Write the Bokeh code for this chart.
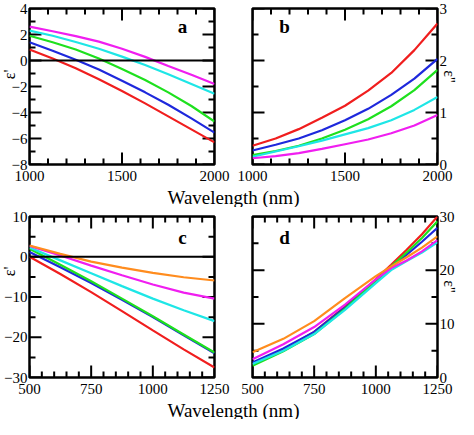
import math
from bokeh.plotting import figure
from bokeh.models import Range1d, LinearAxis, FixedTicker, Span, Label
from bokeh.layouts import column, row
from bokeh.embed import file_html
from bokeh.resources import INLINE
from bokeh.core.properties import value

FONT = "Liberation Serif"

# ---------------- data ----------------
wl_ab = [1000, 1125, 1250, 1375, 1500, 1625, 1750, 1875, 2000]
a_red = [0.85, 0.15, -0.6, -1.45, -2.35, -3.3, -4.3, -5.3, -6.3]
a_blue = [1.4, 0.75, 0.05, -0.7, -1.55, -2.45, -3.4, -4.45, -5.55]
a_green = [1.9, 1.4, 0.85, 0.15, -0.65, -1.5, -2.45, -3.5, -4.7]
a_cyan = [2.3, 1.9, 1.42, 0.9, 0.3, -0.35, -1.05, -1.8, -2.55]
a_magenta = [2.6, 2.25, 1.88, 1.45, 0.9, 0.28, -0.42, -1.1, -1.8]

b_red = [0.36, 0.5, 0.68, 0.9, 1.13, 1.42, 1.76, 2.2, 2.71]
b_blue = [0.27, 0.38, 0.5, 0.66, 0.85, 1.07, 1.34, 1.65, 2.03]
b_green = [0.18, 0.26, 0.36, 0.5, 0.67, 0.87, 1.12, 1.43, 1.82]
b_cyan = [0.15, 0.25, 0.35, 0.46, 0.58, 0.7, 0.85, 1.05, 1.3]
b_magenta = [0.12, 0.16, 0.22, 0.3, 0.39, 0.48, 0.6, 0.75, 0.95]

wl_c = [500, 625, 750, 875, 1000, 1125, 1250]
c_red = [0.0, -4.3, -8.8, -13.5, -18.3, -23.0, -27.5]
c_blue = [1.2, -2.6, -6.5, -10.7, -15.0, -19.5, -24.0]
c_green = [2.0, -2.0, -6.1, -10.4, -14.8, -19.3, -23.8]
c_cyan = [2.3, -0.9, -4.1, -7.3, -10.4, -13.3, -16.0]
c_magenta = [2.7, 0.3, -2.2, -4.6, -6.9, -8.9, -10.4]
c_orange = [2.8, 0.7, -1.2, -2.7, -4.0, -5.1, -5.9]

wl_d = [500, 625, 750, 875, 1000, 1062, 1125, 1187, 1250]
d_red = [2.5, 5.2, 8.5, 13.2, 18.3, 21.0, 23.8, 26.7, 30.0]
d_blue = [2.8, 5.4, 8.5, 13.0, 18.0, 20.6, 22.9, 25.3, 27.9]
d_green = [2.2, 4.9, 8.1, 12.8, 18.0, 20.7, 23.3, 26.0, 29.1]
d_cyan = [2.5, 5.0, 8.1, 12.6, 17.6, 20.0, 21.7, 23.3, 25.2]
d_magenta = [3.4, 6.2, 9.4, 13.6, 18.3, 20.4, 21.8, 23.5, 25.6]
d_orange = [4.7, 7.2, 10.5, 14.8, 18.9, 20.7, 22.4, 24.2, 26.3]

# tick values
ab_x_major = [1000, 1500, 2000]
ab_x_minor = [1100, 1200, 1300, 1400, 1600, 1700, 1800, 1900]
a_y_major = [-8, -6, -4, -2, 0, 2, 4]
a_y_minor = [-7, -5, -3, -1, 1, 3]
b_y_major = [0, 1, 2, 3]
b_y_minor = [0.5, 1.5, 2.5]
cd_x_major = [500, 750, 1000, 1250]
cd_x_minor = [550, 600, 650, 700, 800, 850, 900, 950, 1050, 1100, 1150, 1200]
c_y_major = [-30, -20, -10, 0, 10]
c_y_minor = [-25, -15, -5, 5]
d_y_major = [0, 10, 20, 30]
d_y_minor = [5, 15, 25]

xlabel = "Wavelength (nm)"
ylabel_real = "ε'"
ylabel_imag = "ε''"

COL = {"red": "#f01e1e", "blue": "#1e28dc", "green": "#1ee01e",
       "cyan": "#1ee6e6", "magenta": "#f01ef0", "orange": "#ff8c1e"}
LW = 2.2
MAJ, MIN = 12, 6


def panel(w, h, bl, br, bt, bb, xr, yr, xt, yt, ylab_side):
    p = figure(width=w, height=h, x_range=Range1d(*xr), y_range=Range1d(*yr),
               output_backend="svg", toolbar_location=None,
               x_axis_location=None, y_axis_location=None,
               min_border_left=bl, min_border_right=br,
               min_border_top=bt, min_border_bottom=bb)
    p.grid.visible = False
    p.outline_line_color = "black"
    p.outline_line_width = 2.5
    p.border_fill_color = None
    p.background_fill_color = "white"
    (xmaj, xmin), (ymaj, ymin) = xt, yt
    xa = LinearAxis(ticker=FixedTicker(ticks=xmaj))
    ya = LinearAxis(ticker=FixedTicker(ticks=ymaj))
    for ax, st in [(xa, 6), (ya, 2)]:
        ax.axis_line_color = None
        ax.major_tick_in = 0
        ax.major_tick_out = 0
        ax.minor_tick_in = 0
        ax.minor_tick_out = 0
        ax.major_label_text_font = FONT
        ax.major_label_text_font_size = "15px"
        ax.major_label_text_color = "black"
        ax.major_label_standoff = st
    p.add_layout(xa, "below")
    p.add_layout(ya, ylab_side)
    x0, x1 = xr
    y0, y1 = yr
    # inward ticks on all four sides
    for vals, ln in [(xmaj, MAJ), (xmin, MIN)]:
        p.ray(x=vals, y=[y0] * len(vals), length=ln, length_units="screen",
              angle=math.pi / 2, line_color="black", line_width=2)
        p.ray(x=vals, y=[y1] * len(vals), length=ln, length_units="screen",
              angle=-math.pi / 2, line_color="black", line_width=2)
    for vals, ln in [(ymaj, MAJ), (ymin, MIN)]:
        p.ray(x=[x0] * len(vals), y=vals, length=ln, length_units="screen",
              angle=0, line_color="black", line_width=2)
        p.ray(x=[x1] * len(vals), y=vals, length=ln, length_units="screen",
              angle=math.pi, line_color="black", line_width=2)
    return p


def letter(p, x, y, t):
    p.add_layout(Label(x=x, y=y, text=t, text_font=FONT, text_font_size="19px",
                       text_font_style="bold", text_align="center",
                       text_baseline="middle", text_color="black"))


# horizontal geometry (frames at the reference positions)
BL_A, FW, BR_A = 29, 185, 19
BL_B, BR_B = 19, 21
WA = BL_A + FW + BR_A          # 233
WB = BL_B + FW + BR_B          # 225
H1, H2 = 187, 193              # heights of the two panel rows

# panel a
pa = panel(WA, H1, BL_A, BR_A, 8, 23, (1000, 2000), (-8, 4),
           (ab_x_major, ab_x_minor), (a_y_major, a_y_minor), "left")
pa.add_layout(Span(location=0, dimension="width", line_color="black", line_width=2))
for nm, ys in [("red", a_red), ("blue", a_blue), ("green", a_green),
               ("cyan", a_cyan), ("magenta", a_magenta)]:
    pa.line(wl_ab, ys, line_color=COL[nm], line_width=LW)
letter(pa, 1827, 2.6, "a")

# panel b
pb = panel(WB, H1, BL_B, BR_B, 8, 23, (1000, 2000), (0, 3),
           (ab_x_major, ab_x_minor), (b_y_major, b_y_minor), "right")
for nm, ys in [("red", b_red), ("blue", b_blue), ("green", b_green),
               ("cyan", b_cyan), ("magenta", b_magenta)]:
    pb.line(wl_ab, ys, line_color=COL[nm], line_width=LW)
letter(pb, 1173, 2.65, "b")

# panel c
pc = panel(WA, H2, BL_A, BR_A, 9, 23, (500, 1250), (-30, 10),
           (cd_x_major, cd_x_minor), (c_y_major, c_y_minor), "left")
pc.add_layout(Span(location=0, dimension="width", line_color="black", line_width=2))
for nm, ys in [("red", c_red), ("blue", c_blue), ("green", c_green),
               ("cyan", c_cyan), ("magenta", c_magenta), ("orange", c_orange)]:
    pc.line(wl_c, ys, line_color=COL[nm], line_width=LW)
letter(pc, 1120, 4.8, "c")

# panel d
pd_ = panel(WB, H2, BL_B, BR_B, 9, 23, (500, 1250), (0, 30),
            (cd_x_major, cd_x_minor), (d_y_major, d_y_minor), "right")
for nm, ys in [("red", d_red), ("blue", d_blue), ("green", d_green),
               ("cyan", d_cyan), ("magenta", d_magenta), ("orange", d_orange)]:
    pd_.line(wl_d, ys, line_color=COL[nm], line_width=LW)
letter(pd_, 630, 26.1, "d")


def blank(w, h):
    f = figure(width=w, height=h, x_range=Range1d(0, w), y_range=Range1d(0, h),
               output_backend="svg", toolbar_location=None,
               x_axis_location=None, y_axis_location=None, min_border=0)
    f.grid.visible = False
    f.outline_line_color = None
    f.background_fill_color = None
    f.border_fill_color = None
    return f


MIDW = WA + WB  # 458


def label_fig(h):
    f = blank(MIDW, h)
    f.text(x=[241 - 8], y=[h / 2], text=[xlabel], text_font=value(FONT),
           text_font_size="19px", text_align="center", text_baseline="middle",
           text_color="black")
    return f


l1 = label_fig(20)
l2 = label_fig(19)

TOTAL_H = H1 + 20 + H2 + 19   # 419
SL, SR = 20, 18
# transparent strips (under the panels' margins) carrying rotated y titles;
# y is measured from the bottom of the strip
sl = blank(SL, TOTAL_H)
sl.text(x=[9, 9], y=[TOTAL_H - 74, TOTAL_H - 271],
        text=[ylabel_real, ylabel_real],
        text_font=value(FONT), text_font_size="16px", text_align="center",
        text_baseline="middle", angle=math.pi / 2, text_color="black")
sr = blank(SR, TOTAL_H)
sr.text(x=[SR / 2, SR / 2], y=[TOTAL_H - 76, TOTAL_H - 286],
        text=[ylabel_imag, ylabel_imag],
        text_font=value(FONT), text_font_size="16px", text_align="center",
        text_baseline="middle", angle=-math.pi / 2, text_color="black")

mid = column(row(pa, pb), l1, row(pc, pd_), l2, margin=(0, 0, 0, -SL))
sr.margin = (0, 0, 0, -SR)
layout = row(sl, mid, sr)
open("out.html", "w").write(file_html(layout, INLINE))
